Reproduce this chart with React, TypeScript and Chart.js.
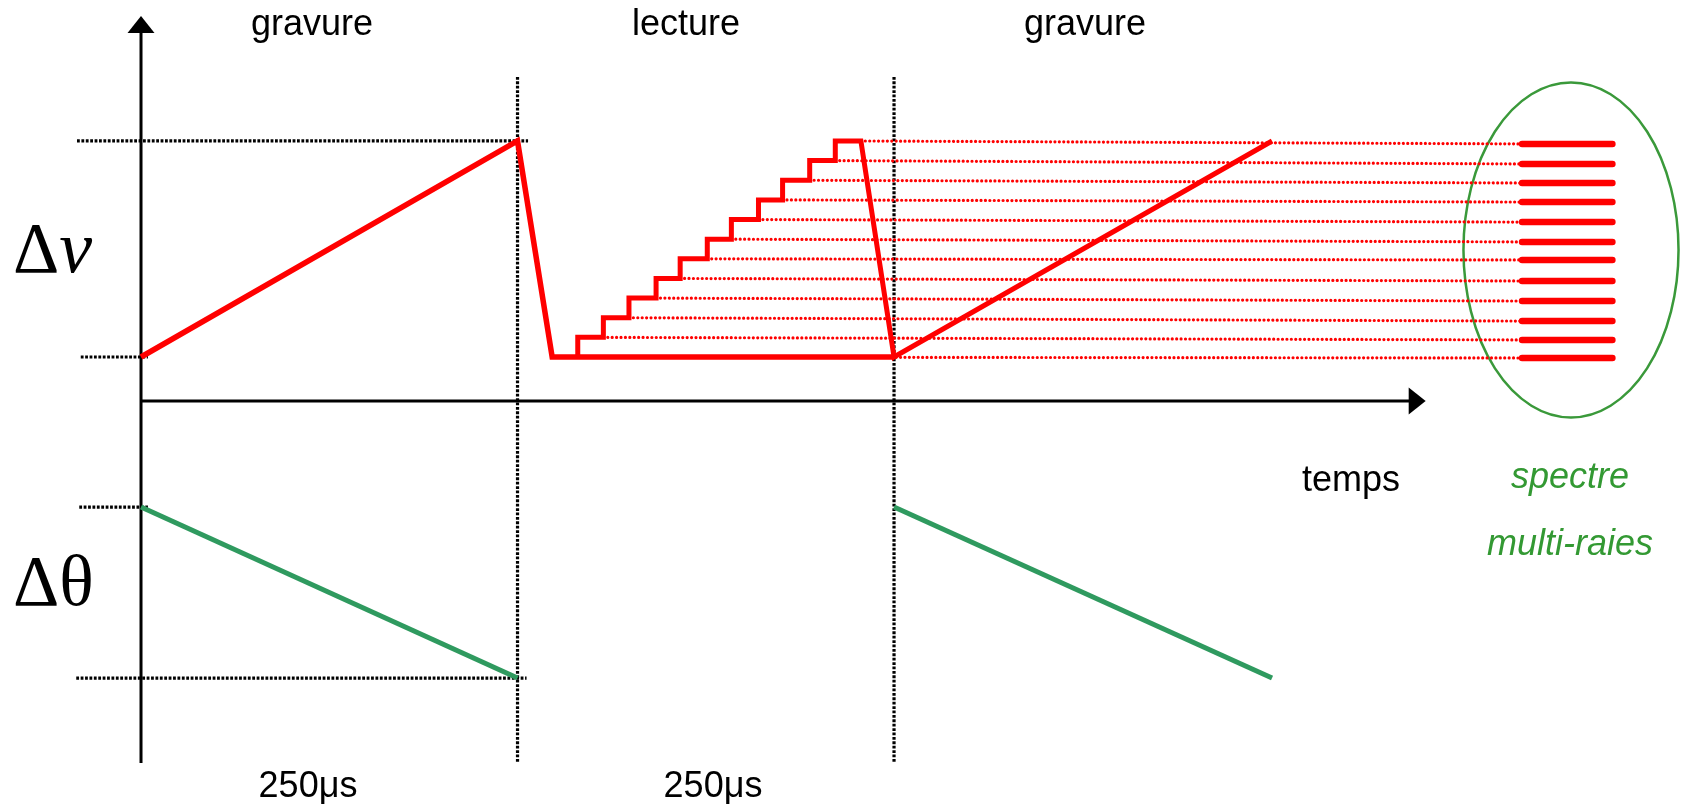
import React, { useEffect, useRef } from "react";
import { Chart, registerables } from "chart.js";

Chart.register(...registerables);

// ---------- data (time in µs, Δν in line-level units, Δθ in relative units) ----------
const writeRampTimes = [0, 250, 273, 500];
const writeRampLevels = [0, 11, 0, 0];

const stepTimes = [290, 307, 324, 342, 358, 376, 392, 410, 426, 444, 461, 478];
const stepLevels = [0, 1, 2, 3, 4, 5, 6, 7, 8, 9, 10, 11];

const secondDropTimes = [500, 751];
const secondDropLevels = [0, 11];

const dottedStartTimes = [273, 307, 324, 342, 358, 376, 392, 410, 426, 444, 461, 478];
const spectrumLevels = [-0.05, 0.87, 1.83, 2.85, 3.87, 4.94, 5.86, 6.87, 7.89, 8.86, 9.83, 10.85];
const spectrumStartT = 917;
const spectrumEndT = 977;

const thetaTimes1 = [0, 250];
const thetaValues1 = [1, 0];
const thetaTimes2 = [500, 751];
const thetaValues2 = [1, 0];

const guideTimes = [250, 500];
const guideNuRange = [14.26, -20.67];
const nuGuideLevels = [11, 0];
const nuGuideSpans = [[-42.5, 257], [-40, 4.6]];
const thetaGuideLevels = [1, 0];
const thetaGuideSpans = [[-41, 4.6], [-43, 256]];

const axisNu = -2.24;
const axisTimeEnd = 853;
const yAxisNuTop = 17.36;
const yAxisNuBottom = -20.67;

const ellipseCenter = { t: 949.5, nu: 5.45 };
const ellipseRadius = { t: 71.4, nu: 8.53 };

const topLabels = ["gravure", "lecture", "gravure"];
const durationLabels = ["250μs", "250μs"];

// ---------- styles ----------
const RED = "#ff0000";
const GREEN_LINE = "#2f9a5f";
const GREEN_TEXT = "#339933";
const BLACK = "#000000";

const W = 1685;
const H = 808;

const pts = (xs: number[], ys: number[]) => xs.map((x, i) => ({ x, y: ys[i] }));

export default function App() {
  const ref = useRef<HTMLCanvasElement | null>(null);

  useEffect(() => {
    const canvas = ref.current;
    if (!canvas) return;

    // staircase: riser at each step time, tread to the next
    const stair: { x: number; y: number }[] = [];
    for (let i = 0; i < stepTimes.length; i++) {
      const lvlBefore = i === 0 ? stepLevels[0] : stepLevels[i];
      const lvlAfter = i < stepTimes.length - 1 ? stepLevels[i + 1] : stepLevels[i];
      stair.push({ x: stepTimes[i], y: lvlBefore });
      if (i < stepTimes.length - 1) stair.push({ x: stepTimes[i], y: lvlAfter });
    }
    const readPath = [...stair, ...pts(secondDropTimes, secondDropLevels)];

    const solid = (data: any[], color: string, width: number, yAxisID = "yNu", cap: any = "butt") => ({
      type: "scatter" as const,
      data,
      showLine: true,
      borderColor: color,
      backgroundColor: color,
      borderWidth: width,
      borderCapStyle: cap,
      borderJoinStyle: "miter" as const,
      pointRadius: 0,
      pointHoverRadius: 0,
      yAxisID,
      order: 0,
    });
    const dotted = (
      data: any[],
      color: string,
      width: number,
      dash: number[],
      cap: any,
      yAxisID = "yNu"
    ) => ({
      type: "scatter" as const,
      data,
      showLine: true,
      borderColor: color,
      backgroundColor: color,
      borderWidth: width,
      borderDash: dash,
      borderCapStyle: cap,
      pointRadius: 0,
      pointHoverRadius: 0,
      yAxisID,
      order: 10,
    });

    const datasets: any[] = [];
    datasets.push(solid(pts(writeRampTimes, writeRampLevels), RED, 5.5));
    datasets.push(solid(readPath, RED, 5));
    spectrumLevels.forEach((lv) => {
      datasets.push(solid([{ x: spectrumStartT, y: lv }, { x: spectrumEndT, y: lv }], RED, 6.5, "yNu", "round"));
    });
    datasets.push(solid(pts(thetaTimes1, thetaValues1), GREEN_LINE, 5, "yTh"));
    datasets.push(solid(pts(thetaTimes2, thetaValues2), GREEN_LINE, 5, "yTh"));
    dottedStartTimes.forEach((t, k) => {
      datasets.push(
        dotted([{ x: t, y: stepLevels[k] }, { x: spectrumStartT, y: spectrumLevels[k] }], RED, 3.2, [0.01, 4.4], "round")
      );
    });
    guideTimes.forEach((t) => {
      datasets.push(dotted([{ x: t, y: guideNuRange[0] }, { x: t, y: guideNuRange[1] }], BLACK, 3.2, [2.8, 1.6], "butt"));
    });
    nuGuideLevels.forEach((lv, i) => {
      datasets.push(dotted([{ x: nuGuideSpans[i][0], y: lv }, { x: nuGuideSpans[i][1], y: lv }], BLACK, 3.2, [2.8, 1.6], "butt"));
    });
    thetaGuideLevels.forEach((lv, i) => {
      datasets.push(
        dotted([{ x: thetaGuideSpans[i][0], y: lv }, { x: thetaGuideSpans[i][1], y: lv }], BLACK, 3.2, [2.8, 1.6], "butt", "yTh")
      );
    });

    const decor = {
      id: "decor",
      beforeDatasetsDraw(chart: any) {
        const ctx = chart.ctx as CanvasRenderingContext2D;
        const xs = chart.scales.x;
        const yn = chart.scales.yNu;
        const x0 = xs.getPixelForValue(0);
        const yAxisTop = yn.getPixelForValue(yAxisNuTop);
        const yAxisBot = yn.getPixelForValue(yAxisNuBottom);
        const xAxisY = yn.getPixelForValue(axisNu);
        const xEnd = xs.getPixelForValue(axisTimeEnd);
        ctx.save();
        ctx.strokeStyle = BLACK;
        ctx.fillStyle = BLACK;
        ctx.lineWidth = 3;
        ctx.beginPath();
        ctx.moveTo(x0, yAxisBot);
        ctx.lineTo(x0, yAxisTop + 12);
        ctx.moveTo(x0, xAxisY);
        ctx.lineTo(xEnd - 12, xAxisY);
        ctx.stroke();
        ctx.beginPath();
        ctx.moveTo(x0, yAxisTop);
        ctx.lineTo(x0 - 13.5, yAxisTop + 17);
        ctx.lineTo(x0 + 13.5, yAxisTop + 17);
        ctx.closePath();
        ctx.fill();
        ctx.beginPath();
        ctx.moveTo(xEnd, xAxisY);
        ctx.lineTo(xEnd - 17, xAxisY - 13.5);
        ctx.lineTo(xEnd - 17, xAxisY + 13.5);
        ctx.closePath();
        ctx.fill();

        const cx = xs.getPixelForValue(ellipseCenter.t);
        const cy = yn.getPixelForValue(ellipseCenter.nu);
        const rx = Math.abs(xs.getPixelForValue(ellipseCenter.t + ellipseRadius.t) - cx);
        const ry = Math.abs(yn.getPixelForValue(ellipseCenter.nu + ellipseRadius.nu) - cy);
        ctx.strokeStyle = "#3a993a";
        ctx.lineWidth = 2.5;
        ctx.beginPath();
        ctx.ellipse(cx, cy, rx, ry, 0, 0, Math.PI * 2);
        ctx.stroke();
        ctx.restore();
      },
      afterDatasetsDraw(chart: any) {
        const ctx = chart.ctx as CanvasRenderingContext2D;
        ctx.save();
        ctx.textBaseline = "alphabetic";
        ctx.textAlign = "center";
        ctx.fillStyle = BLACK;
        ctx.font = '36px "Liberation Sans", Arial, sans-serif';
        const topX = [312, 686, 1085];
        topLabels.forEach((s, i) => ctx.fillText(s, topX[i], 35));
        ctx.fillText("temps", 1351, 491);
        const durX = [308, 713];
        durationLabels.forEach((s, i) => ctx.fillText(s, durX[i], 797));
        ctx.fillStyle = GREEN_TEXT;
        ctx.font = 'italic 36px "Liberation Sans", Arial, sans-serif';
        ctx.fillText("spectre", 1570, 488);
        ctx.fillText("multi-raies", 1570, 555);
        ctx.fillStyle = BLACK;
        ctx.textAlign = "left";
        ctx.font = '72px "Liberation Serif", "Times New Roman", serif';
        ctx.fillText("Δ", 13, 272);
        const dw = ctx.measureText("Δ").width;
        ctx.font = 'italic 74px "Liberation Serif", "Times New Roman", serif';
        ctx.fillText("ν", 13 + dw, 272);
        ctx.font = '72px "Liberation Serif", "Times New Roman", serif';
        ctx.fillText("Δθ", 13, 605);
        ctx.restore();
      },
    };

    const chart = new Chart(canvas, {
      type: "scatter",
      data: { datasets },
      options: {
        animation: false,
        responsive: false,
        devicePixelRatio: 1,
        layout: { padding: 0 },
        events: [],
        plugins: { legend: { display: false }, tooltip: { enabled: false } },
        scales: {
          x: { type: "linear", min: -93.63, max: 1025.2, display: false },
          yNu: { type: "linear", position: "left", min: -22.963, max: 18.177, display: false },
          yTh: { type: "linear", position: "right", min: -0.76, max: 3.965, display: false },
        },
      },
      plugins: [decor],
    });
    return () => chart.destroy();
  }, []);

  return (
    <canvas
      ref={ref}
      width={W}
      height={H}
      style={{ position: "absolute", left: 0, top: 0, width: W, height: H, display: "block", background: "#fff" }}
    />
  );
}
